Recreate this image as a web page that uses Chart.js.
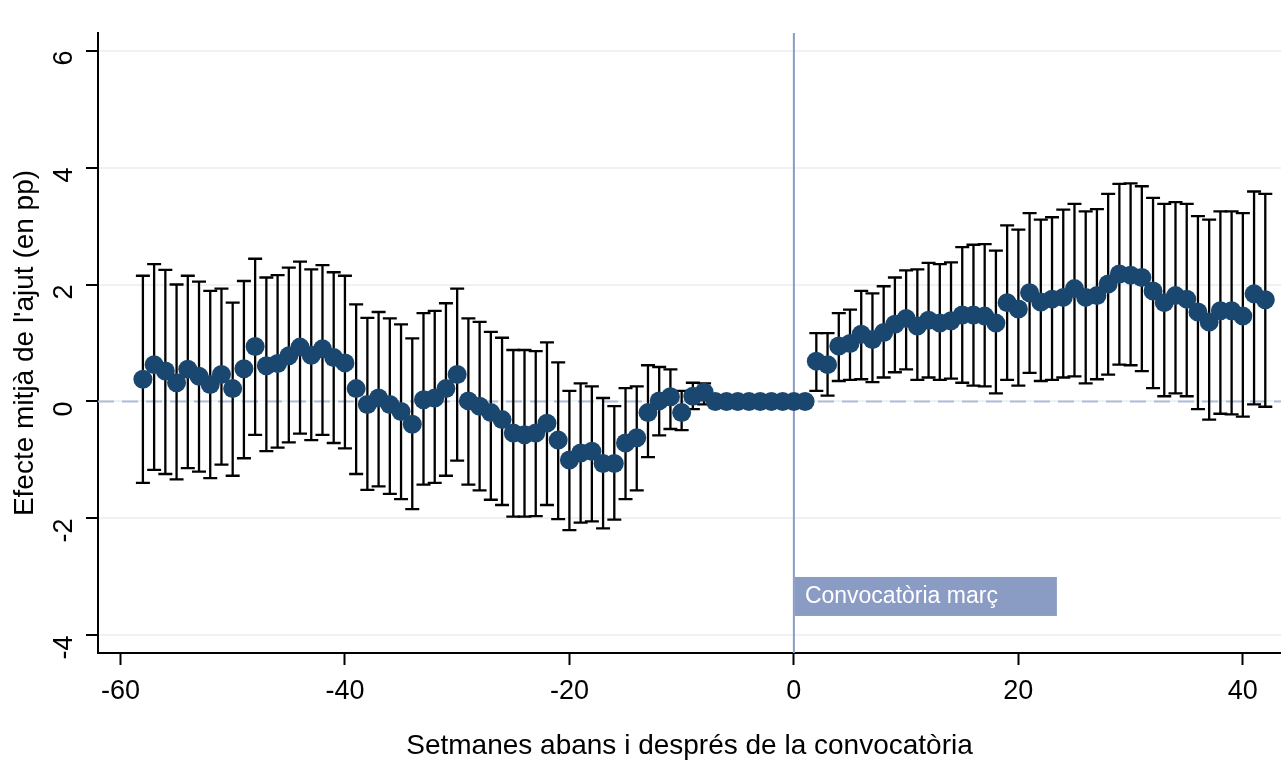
<!DOCTYPE html>
<html>
<head>
<meta charset="utf-8">
<script src="https://cdn.jsdelivr.net/npm/chart.js@4"></script>
<style>
  html, body { margin: 0; padding: 0; background: #fff; }
  #wrap { width: 1281px; height: 760px; }
</style>
</head>
<body>
<div id="wrap"><canvas id="chart"></canvas></div>
<script>
// weeks before / after the call (-58 .. 42)
const weeks = [];
for (let w = -58; w <= 42; w++) weeks.push(w);

// point estimates (pp)
const coef = [
  0.38, 0.63, 0.52, 0.32, 0.55, 0.43, 0.29, 0.46, 0.22, 0.56,
  0.94, 0.61, 0.65, 0.78, 0.93, 0.79, 0.90, 0.75, 0.66, 0.22,
  -0.05, 0.06, -0.05, -0.17, -0.39, 0.03, 0.06, 0.22, 0.46, 0.01,
  -0.08, -0.19, -0.31, -0.54, -0.57, -0.54, -0.37, -0.66, -1.00, -0.88,
  -0.85, -1.06, -1.06, -0.71, -0.62, -0.19, 0.01, 0.08, -0.19, 0.09,
  0.16,
  0, 0, 0, 0, 0, 0, 0, 0, 0,
  0.69, 0.63, 0.95, 0.99, 1.15, 1.06, 1.18, 1.32, 1.42, 1.29,
  1.39, 1.34, 1.38, 1.48, 1.48, 1.46, 1.34, 1.69, 1.58, 1.86,
  1.70, 1.75, 1.78, 1.93, 1.78, 1.81, 2.01, 2.18, 2.16, 2.12,
  1.89, 1.69, 1.81, 1.75, 1.53, 1.36, 1.55, 1.55, 1.46, 1.84,
  1.74
];

// upper bound of the confidence interval (null = no interval)
const upper = [
  2.15, 2.35, 2.25, 2.00, 2.15, 2.05, 1.89, 1.93, 1.69, 2.06,
  2.44, 2.12, 2.16, 2.29, 2.39, 2.26, 2.33, 2.21, 2.15, 1.66,
  1.43, 1.53, 1.42, 1.32, 1.08, 1.51, 1.55, 1.68, 1.93, 1.42,
  1.36, 1.19, 1.09, 0.88, 0.88, 0.86, 1.01, 0.67, 0.18, 0.31,
  0.26, 0.06, -0.08, 0.23, 0.26, 0.62, 0.59, 0.55, 0.18, 0.32,
  0.31,
  null, null, null, null, null, null, null, null, null,
  1.17, 1.17, 1.51, 1.57, 1.89, 1.85, 1.97, 2.12, 2.24, 2.26,
  2.37, 2.35, 2.38, 2.64, 2.68, 2.69, 2.58, 3.01, 2.94, 3.22,
  3.11, 3.15, 3.28, 3.38, 3.25, 3.29, 3.55, 3.72, 3.73, 3.68,
  3.48, 3.38, 3.41, 3.38, 3.17, 3.11, 3.25, 3.25, 3.22, 3.59,
  3.55
];

// lower bound of the confidence interval
const lower = [
  -1.39, -1.17, -1.24, -1.33, -1.14, -1.20, -1.31, -1.08, -1.27, -0.97,
  -0.57, -0.85, -0.79, -0.70, -0.55, -0.66, -0.57, -0.71, -0.80, -1.24,
  -1.51, -1.45, -1.58, -1.67, -1.84, -1.42, -1.39, -1.27, -1.01, -1.42,
  -1.52, -1.68, -1.77, -1.97, -1.97, -1.96, -1.77, -2.01, -2.20, -2.07,
  -2.05, -2.17, -2.02, -1.67, -1.52, -0.95, -0.58, -0.47, -0.49, -0.13,
  -0.05,
  null, null, null, null, null, null, null, null, null,
  0.18, 0.10, 0.35, 0.37, 0.38, 0.33, 0.41, 0.50, 0.55, 0.37,
  0.41, 0.37, 0.39, 0.32, 0.27, 0.26, 0.14, 0.37, 0.27, 0.49,
  0.35, 0.37, 0.41, 0.43, 0.31, 0.38, 0.46, 0.63, 0.62, 0.52,
  0.23, 0.09, 0.14, 0.09, -0.13, -0.31, -0.21, -0.22, -0.26, -0.05,
  -0.09
];

const xTicks = [-60, -40, -20, 0, 20, 40];
const yTicks = [-4, -2, 0, 2, 4, 6];
const eventWeek = 0;
const eventLabel = 'Convocatòria març';

const FONT = "'Liberation Sans', Arial, sans-serif";
const navy = '#1a476f';
const slate = '#8a9bc4';

// reference lines, error bars and the label box
const extras = {
  id: 'extras',
  beforeDatasetsDraw(chart) {
    const { ctx, chartArea: a, scales: { x, y } } = chart;
    ctx.save();
    // dashed zero line
    ctx.strokeStyle = '#b0bbd6';
    ctx.lineWidth = 2;
    ctx.setLineDash([16, 8]);
    ctx.beginPath();
    ctx.moveTo(a.left, y.getPixelForValue(0));
    ctx.lineTo(a.right, y.getPixelForValue(0));
    ctx.stroke();
    ctx.setLineDash([]);
    // event line
    const ex = x.getPixelForValue(eventWeek);
    ctx.strokeStyle = slate;
    ctx.lineWidth = 2;
    ctx.beginPath();
    ctx.moveTo(ex, a.top);
    ctx.lineTo(ex, a.bottom);
    ctx.stroke();
    // error bars with caps
    ctx.strokeStyle = '#000';
    ctx.lineWidth = 2.3;
    weeks.forEach((w, i) => {
      if (upper[i] === null) return;
      const px = x.getPixelForValue(w);
      const top = y.getPixelForValue(upper[i]);
      const bot = y.getPixelForValue(lower[i]);
      ctx.beginPath();
      ctx.moveTo(px, top); ctx.lineTo(px, bot);
      ctx.moveTo(px - 7, top); ctx.lineTo(px + 7, top);
      ctx.moveTo(px - 7, bot); ctx.lineTo(px + 7, bot);
      ctx.stroke();
    });
    // label box
    const bx = ex + 1, by = y.getPixelForValue(-3.0);
    ctx.fillStyle = slate;
    ctx.fillRect(bx, by, 262, 39);
    ctx.fillStyle = '#fff';
    ctx.font = '23px ' + FONT;
    ctx.textBaseline = 'middle';
    ctx.fillText(eventLabel, bx + 10, by + 20);
    ctx.restore();
  }
};

new Chart(document.getElementById('chart'), {
  type: 'scatter',
  data: {
    datasets: [{
      data: weeks.map((w, i) => ({ x: w, y: coef[i] })),
      backgroundColor: navy,
      borderColor: navy,
      pointRadius: 9.5,
      pointHoverRadius: 9.5,
      borderWidth: 0
    }]
  },
  options: {
    responsive: true,
    maintainAspectRatio: false,
    animation: false,
    layout: { autoPadding: false, padding: { top: 33, left: 0, right: 0, bottom: 0 } },
    plugins: { legend: { display: false }, tooltip: { enabled: false } },
    scales: {
      x: {
        type: 'linear',
        min: -62,
        max: 43.4,
        afterFit: s => { s.height = 107; s.paddingLeft = 0; s.paddingRight = 0; },
        afterBuildTicks: s => { s.ticks = xTicks.map(v => ({ value: v })); },
        border: { color: '#000', width: 2 },
        grid: { display: true, drawOnChartArea: false, drawTicks: true, tickLength: 12, tickColor: '#000', tickWidth: 2 },
        ticks: { color: '#000', font: { family: FONT, size: 27 }, padding: 10, maxRotation: 0 },
        title: {
          display: true,
          text: 'Setmanes abans i després de la convocatòria',
          color: '#000',
          font: { family: FONT, size: 28, lineHeight: 1.0 },
          padding: { top: 4, bottom: 0 }
        }
      },
      y: {
        min: -4.3,
        max: 6.3,
        afterFit: s => { s.width = 98; s.paddingTop = 0; s.paddingBottom = 0; },
        afterBuildTicks: s => { s.ticks = yTicks.map(v => ({ value: v })); },
        border: { color: '#000', width: 2 },
        grid: { color: '#edf3f5', lineWidth: 2, tickLength: 12, tickColor: '#000', tickWidth: 2 },
        ticks: { color: '#000', font: { family: FONT, size: 27 }, padding: 21, minRotation: 90, maxRotation: 90 },
        title: {
          display: true,
          text: "Efecte mitjà de l'ajut (en pp)",
          color: '#000',
          font: { family: FONT, size: 28 },
          padding: { top: 8, bottom: 0 }
        }
      }
    }
  },
  plugins: [extras]
});
</script>
</body>
</html>
